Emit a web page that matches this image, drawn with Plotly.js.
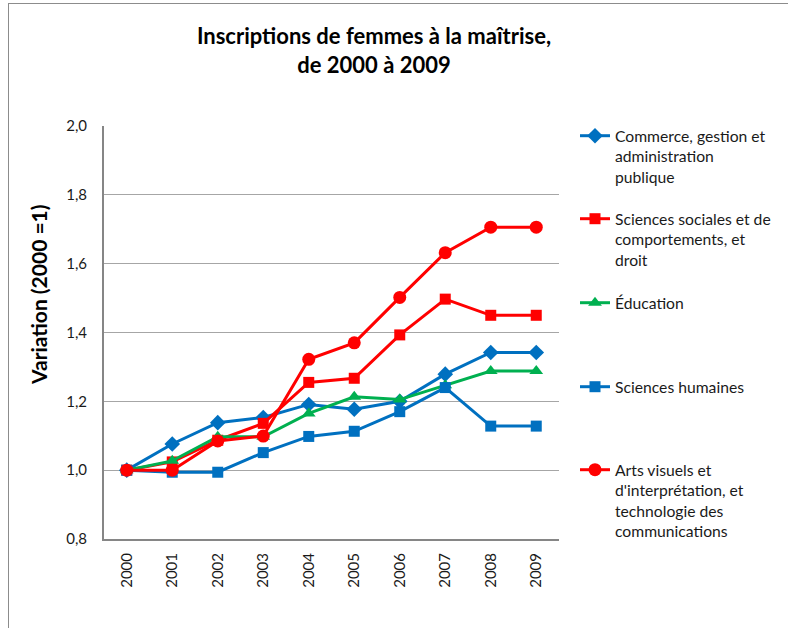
<!DOCTYPE html>
<html>
<head>
<meta charset="utf-8">
<script src="https://cdn.plot.ly/plotly-3.0.1.min.js"></script>
<style>
  body { margin: 0; background: #fff; }
  #frame { position: absolute; left: 8px; top: 3px; width: 820px; height: 660px; border: 1.5px solid #8c8c8c; }
  #chart { position: absolute; left: 0; top: 0; width: 788px; height: 628px; }
</style>
</head>
<body>
<div id="frame"></div>
<div id="chart"></div>
<script>
// years on the x axis
var years = ["2000", "2001", "2002", "2003", "2004", "2005", "2006", "2007", "2008", "2009"];

// variation since 2000 (2000 = 1)
var commerce = [1.000, 1.076, 1.138, 1.153, 1.191, 1.177, 1.200, 1.279, 1.342, 1.342];
var sciencesSociales = [1.000, 1.024, 1.087, 1.136, 1.255, 1.267, 1.393, 1.497, 1.450, 1.450];
var education = [1.000, 1.027, 1.097, 1.097, 1.165, 1.213, 1.205, 1.247, 1.288, 1.288];
var sciencesHumaines = [1.000, 0.994, 0.994, 1.051, 1.098, 1.113, 1.170, 1.240, 1.128, 1.128];
var arts = [1.000, 1.000, 1.085, 1.099, 1.322, 1.370, 1.502, 1.632, 1.706, 1.706];

var names = [
    "Commerce, gestion et<br>administration<br>publique",
    "Sciences sociales et de<br>comportements, et<br>droit",
    "Éducation",
    "Sciences humaines",
    "Arts visuels et<br>d'interprétation, et<br>technologie des<br>communications"
];

var font = "Lato, 'Open Sans', sans-serif";

function makeTrace(y, name, color, symbol, size, legendId) {
    return {
        x: years,
        y: y,
        name: name,
        type: "scatter",
        mode: "lines+markers",
        line: { color: color, width: 3 },
        marker: { color: color, symbol: symbol, size: size },
        legend: legendId
    };
}

var data = [
    makeTrace(commerce, names[0], "#0070C0", "diamond", 12, "legend"),
    makeTrace(sciencesSociales, names[1], "#FF0000", "square", 11, "legend2"),
    makeTrace(education, names[2], "#00B050", "triangle-up", 12, "legend3"),
    makeTrace(sciencesHumaines, names[3], "#0070C0", "square", 11, "legend4"),
    makeTrace(arts, names[4], "#FF0000", "circle", 13, "legend5")
];

// legends placed in pixels from the top of the page
function legendAt(topPx) {
    return {
        xref: "container", x: 575 / 788, xanchor: "left",
        yref: "container", y: 1 - topPx / 628, yanchor: "top",
        valign: "top",
        bgcolor: "rgba(0,0,0,0)",
        font: { family: font, size: 15.7, color: "#1a1a1a" }
    };
}

var layout = {
    width: 788,
    height: 628,
    margin: { l: 104, r: 229, t: 126, b: 89 },
    paper_bgcolor: "rgba(0,0,0,0)",
    plot_bgcolor: "#fff",
    separators: ", ",
    showlegend: true,
    title: {
        text: "<b>Inscriptions de femmes à la maîtrise,<br>de 2000 à 2009</b>",
        font: { family: font, size: 22, color: "#000" },
        x: 0.4746, xref: "container", xanchor: "center",
        y: 1 - 44 / 628, yref: "container", yanchor: "middle"
    },
    xaxis: {
        type: "category",
        range: [-0.5, 9.5],
        showgrid: false,
        showline: true,
        linecolor: "#868686",
        linewidth: 2,
        ticks: "",
        tickangle: -90,
        ticklabelstandoff: 6,
        tickfont: { family: font, size: 15, color: "#1a1a1a" },
        zeroline: false
    },
    yaxis: {
        range: [0.8, 2.0],
        dtick: 0.2,
        tickformat: ".1f",
        showgrid: true,
        gridcolor: "#a6a6a6",
        gridwidth: 1,
        showline: true,
        linecolor: "#868686",
        linewidth: 2,
        ticks: "",
        ticklabelstandoff: 12,
        tickfont: { family: font, size: 15, color: "#1a1a1a" },
        zeroline: false
    },
    annotations: [{
        text: "<b>Variation (2000 =1)</b>",
        textangle: -90,
        xref: "paper", yref: "paper",
        x: (38 - 104) / 455, y: (539 - 295) / 413,
        xanchor: "center", yanchor: "middle",
        showarrow: false,
        font: { family: font, size: 21, color: "#000" }
    }],
    legend: legendAt(119),
    legend2: legendAt(202),
    legend3: legendAt(286),
    legend4: legendAt(370),
    legend5: legendAt(453)
};

Plotly.newPlot("chart", data, layout, { staticPlot: true });
</script>
</body>
</html>
